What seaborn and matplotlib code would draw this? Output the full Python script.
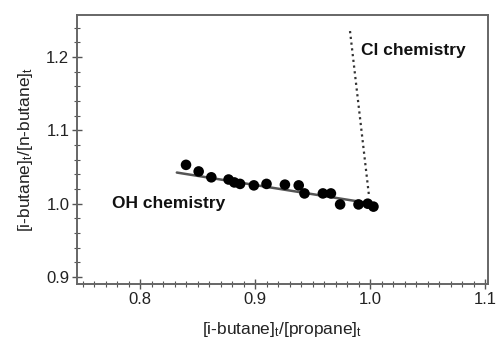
import matplotlib
matplotlib.use("Agg")
import matplotlib.pyplot as plt
import seaborn as sns
import numpy as np
import pandas as pd
from matplotlib.ticker import MultipleLocator

# Data
ratio_propane = [0.840, 0.851, 0.862, 0.877, 0.882, 0.887, 0.899, 0.910, 0.926,
                 0.938, 0.943, 0.959, 0.966, 0.974, 0.990, 0.998, 1.003]
ratio_butane = [1.053, 1.044, 1.036, 1.033, 1.029, 1.027, 1.025, 1.027, 1.026,
                1.025, 1.014, 1.014, 1.014, 0.999, 0.999, 1.000, 0.996]
oh_line_x = [0.832, 1.002]
oh_line_y = [1.0425, 1.000]
cl_line_x = [0.9826, 0.9991]
cl_line_y = [1.2356, 1.011]
x_ticks = [0.8, 0.9, 1.0, 1.1]
y_ticks = [0.9, 1.0, 1.1, 1.2]

sns.set_theme(style="white")
plt.rcParams['font.family'] = ['Liberation Sans', 'DejaVu Sans']
plt.rcParams['mathtext.fontset'] = 'custom'
plt.rcParams['mathtext.rm'] = 'Liberation Sans'
plt.rcParams['mathtext.it'] = 'Liberation Sans'

fig = plt.figure(figsize=(4.96, 3.40), dpi=100)
ax = fig.add_axes([77/496, 1-284/340, (488-77)/496, (284-15)/340])

df = pd.DataFrame({"x": ratio_propane, "y": ratio_butane})
sns.lineplot(x=oh_line_x, y=oh_line_y, ax=ax, color="#555555", linewidth=1.8)
sns.lineplot(x=cl_line_x, y=cl_line_y, ax=ax, color="#333333", linewidth=1.6,
             linestyle=(0, (1, 1.6)))
sns.scatterplot(data=df, x="x", y="y", ax=ax, color="black", s=58,
                edgecolor="none", zorder=3)

ax.set_xlim(0.7452, 1.1026)
ax.set_ylim(0.8904, 1.2575)
ax.set_xticks(x_ticks)
ax.set_xticklabels([f"{v:.1f}" for v in x_ticks])
ax.set_yticks(y_ticks)
ax.set_yticklabels([f"{v:.1f}" for v in y_ticks])
ax.xaxis.set_minor_locator(MultipleLocator(0.01))
ax.yaxis.set_minor_locator(MultipleLocator(0.02))

for s in ax.spines.values():
    s.set_color("#666666")
    s.set_linewidth(1.4)

ax.tick_params(axis="both", which="major", direction="inout", length=7,
               width=1.0, color="#555555", labelsize=12, labelcolor="#222222",
               pad=2, bottom=True, left=True)
ax.tick_params(axis="both", which="minor", direction="inout", length=4,
               width=0.8, color="#555555", bottom=True, left=True)

ax.set_xlabel(r"[i-butane]$_\mathregular{t}$/[propane]$_\mathregular{t}$",
              fontsize=12.5, color="#222222")
ax.set_ylabel(r"[i-butane]$_\mathregular{t}$/[n-butane]$_\mathregular{t}$",
              fontsize=12.5, color="#222222")
ax.xaxis.set_label_coords(0.5, -0.135)
ax.yaxis.set_label_coords(-0.102, 0.5)

ax.text(0.7757, 1.0, "OH chemistry", fontsize=12.5, fontweight="bold",
        va="center", ha="left", color="#111111")
ax.text(0.992, 1.2096, "Cl chemistry", fontsize=12.5, fontweight="bold",
        va="center", ha="left", color="#111111")

fig.savefig("out.png", dpi=100)
